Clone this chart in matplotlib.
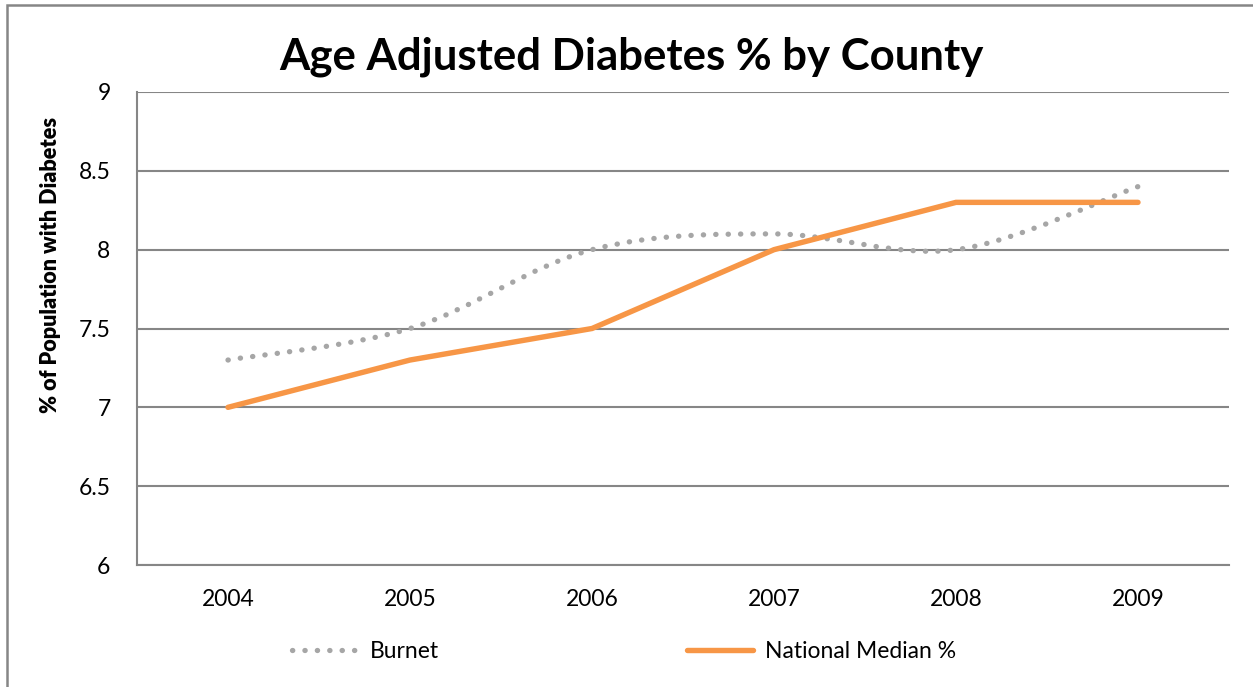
import matplotlib.pyplot as plt
from matplotlib.path import Path
from matplotlib.patches import PathPatch, Rectangle
from matplotlib.lines import Line2D

years = ["2004", "2005", "2006", "2007", "2008", "2009"]
burnet = [7.3, 7.5, 8.0, 8.1, 8.0, 8.4]
national = [7.0, 7.3, 7.5, 8.0, 8.3, 8.3]

ORANGE = "#F79646"
GREY = "#A6A6A6"
AXIS = "#868686"
FONT = ["Lato", "DejaVu Sans"]
DOTS = (0, (0.05, 2.3))


def smooth_path(xs, ys):
    # Bezier segments with Catmull-Rom style tangents (like a spreadsheet "smoothed line")
    verts = [(xs[0], ys[0])]
    codes = [Path.MOVETO]
    n = len(xs)
    for i in range(n - 1):
        x0, y0 = (xs[i - 1], ys[i - 1]) if i > 0 else (xs[i], ys[i])
        x1, y1 = xs[i], ys[i]
        x2, y2 = xs[i + 1], ys[i + 1]
        x3, y3 = (xs[i + 2], ys[i + 2]) if i + 2 < n else (x2, y2)
        c1 = (x1 + (x2 - x0) / 6, y1 + (y2 - y0) / 6)
        c2 = (x2 - (x3 - x1) / 6, y2 - (y3 - y1) / 6)
        verts += [c1, c2, (x2, y2)]
        codes += [Path.CURVE4] * 3
    return Path(verts, codes)


def main():
    plt.rcParams["font.family"] = FONT
    fig = plt.figure(figsize=(12.53, 6.87), dpi=100)

    # outer chart frame
    fig.patches.append(Rectangle((7 / 1253, -0.1), 1.2, 1.1 - 5 / 687,
                                 transform=fig.transFigure, fill=False,
                                 edgecolor=AXIS, linewidth=1.8))

    ax = fig.add_axes([137 / 1253, 1 - 565 / 687, (1229 - 137) / 1253, (565 - 92) / 687])
    x = list(range(len(years)))

    ax.add_patch(PathPatch(smooth_path(x, burnet), fill=False, edgecolor=GREY,
                           linewidth=3.8, linestyle=DOTS,
                           capstyle="round", zorder=3))
    ax.plot(x, national, color=ORANGE, linewidth=3.9, solid_capstyle="round",
            solid_joinstyle="miter", zorder=4)

    ax.set_xlim(-0.5, 5.5)
    ax.set_ylim(6, 9)
    ax.set_yticks([6, 6.5, 7, 7.5, 8, 8.5, 9])
    ax.set_yticklabels(["6", "6.5", "7", "7.5", "8", "8.5", "9"])
    ax.set_xticks(x)
    ax.set_xticklabels(years)
    ax.tick_params(axis="both", length=0, labelsize=16.5)
    ax.tick_params(axis="y", pad=19)
    ax.tick_params(axis="x", pad=17)
    ax.grid(axis="y", color=AXIS, linewidth=1.5)
    ax.set_axisbelow(True)
    for side in ["top", "right"]:
        ax.spines[side].set_visible(False)
    for side in ["left", "bottom"]:
        ax.spines[side].set_color(AXIS)
        ax.spines[side].set_linewidth(1.5)

    ax.set_ylabel("% of Population with Diabetes", fontsize=15.6, fontweight="heavy")
    ax.yaxis.set_label_coords(-0.070, (565 - 265) / 473)
    fig.text(631 / 1253, 1 - 57 / 687, "Age Adjusted Diabetes % by County",
             ha="center", va="center", fontsize=31.5, fontweight="bold")

    handles = [
        Line2D([], [], color=GREY, linewidth=3.8, linestyle=DOTS,
               dash_capstyle="round"),
        Line2D([], [], color=ORANGE, linewidth=3.9, solid_capstyle="round"),
    ]
    fig.legend(handles, ["Burnet", "National Median %"], loc="center",
               bbox_to_anchor=(624 / 1253, 1 - 652 / 687), ncol=2, frameon=False,
               fontsize=16.5, handlelength=2.9, handletextpad=0.5, columnspacing=10.8)

    fig.savefig("out.png", dpi=100)


if __name__ == "__main__":
    main()
